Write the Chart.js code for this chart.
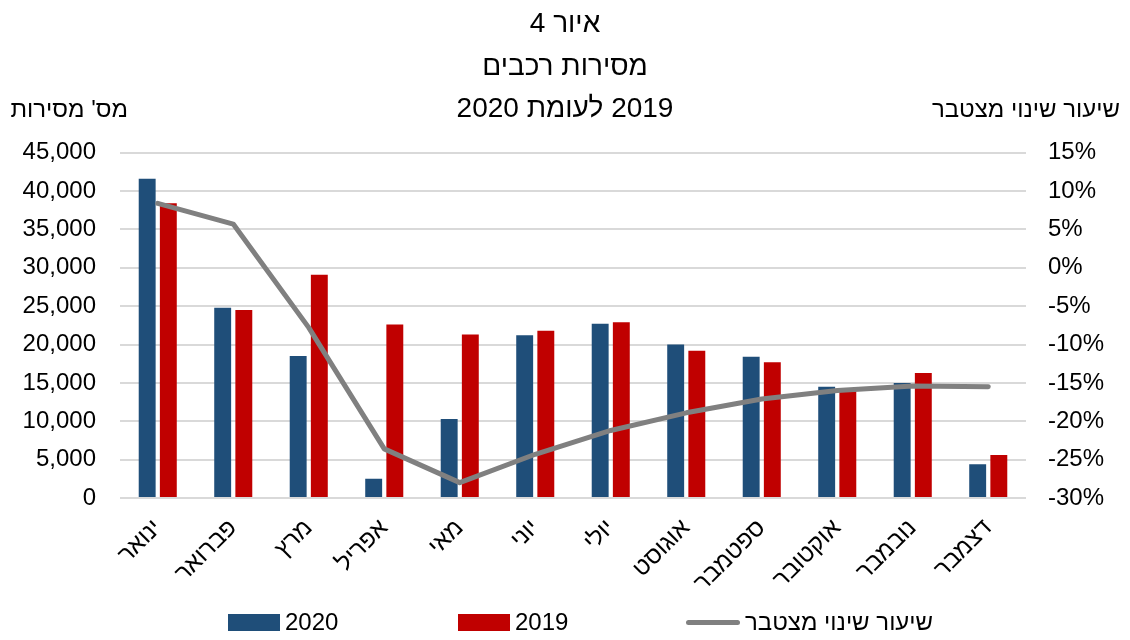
<!DOCTYPE html>
<html lang="he">
<head>
<meta charset="utf-8">
<script src="https://cdn.jsdelivr.net/npm/chart.js@4.4.1/dist/chart.umd.min.js"></script>
<style>
  html, body { margin: 0; padding: 0; background: #fff; }
  #wrap { position: relative; width: 1130px; height: 640px; }
  #legend {
    position: absolute; left: 0; top: 606px; width: 1130px; height: 32px;
    font-family: "Liberation Sans Narrow", "Liberation Sans", sans-serif; font-size: 24px; color: #000;
  }
  .item { position: absolute; top: 0; display: flex; align-items: center; height: 32px; }
  .swatch { width: 52px; height: 17px; margin-right: 5px; }
  .lineSwatch { width: 54px; height: 5px; border-radius: 3px; margin-right: 5px; }
</style>
</head>
<body>
<div id="wrap">
  <canvas id="chart" width="1130" height="640"></canvas>
  <div id="legend"></div>
</div>
<script>
// Chart data
const months = ['ינואר', 'פברואר', 'מרץ', 'אפריל', 'מאי', 'יוני', 'יולי', 'אוגוסט', 'ספטמבר', 'אוקטובר', 'נובמבר', 'דצמבר'];
const deliveries2020 = [41600, 24800, 18500, 2500, 10300, 21200, 22700, 20000, 18400, 14500, 15000, 4400];
const deliveries2019 = [38400, 24500, 29100, 22600, 21300, 21800, 22900, 19200, 17700, 13900, 16300, 5600];
const cumulativeChange = [8.4, 5.7, -7.8, -23.6, -28.0, -24.3, -21.2, -18.9, -17.1, -16.0, -15.4, -15.5];

// the LRM keeps "2019" on the right of the Hebrew word, as in the original
const titleLines = ['איור 4', 'מסירות רכבים', '2020 לעומת\u200E 2019'];
const leftAxisTitle = "מס' מסירות";
const rightAxisTitle = 'שיעור שינוי מצטבר';

const FONT = '"Liberation Sans Narrow", "Liberation Sans", sans-serif';
const BLUE = '#1F4E79';
const RED = '#C00000';
const GREY = '#808080';

// Draws the two horizontal axis captions above the plot
const axisCaptions = {
    id: 'axisCaptions',
    afterDraw(chart) {
        const ctx = chart.ctx;
        const area = chart.chartArea;
        ctx.save();
        ctx.font = '24px ' + FONT;
        ctx.fillStyle = '#000';
        ctx.textBaseline = 'middle';
        ctx.textAlign = 'right';
        ctx.fillText(leftAxisTitle, area.left + 8, 110);
        ctx.fillText(rightAxisTitle, 1120, 110);
        ctx.restore();
    }
};

const ctx = document.getElementById('chart');
const chart = new Chart(ctx, {
    type: 'bar',
    data: {
        labels: months,
        datasets: [
            {
                type: 'line',
                label: 'שיעור שינוי מצטבר',
                data: cumulativeChange,
                yAxisID: 'yRight',
                borderColor: GREY,
                backgroundColor: GREY,
                borderWidth: 5,
                pointRadius: 0,
                tension: 0,
                borderCapStyle: 'round',
                borderJoinStyle: 'round',
                order: 0
            },
            {
                label: '2020',
                data: deliveries2020,
                yAxisID: 'yLeft',
                backgroundColor: BLUE,
                categoryPercentage: 0.56,
                barPercentage: 0.8,
                order: 1
            },
            {
                label: '2019',
                data: deliveries2019,
                yAxisID: 'yLeft',
                backgroundColor: RED,
                categoryPercentage: 0.56,
                barPercentage: 0.8,
                order: 2
            }
        ]
    },
    options: {
        responsive: false,
        animation: false,
        layout: { padding: { left: 0, right: 0, top: 0, bottom: 47 } },
        plugins: {
            legend: { display: false },
            tooltip: { enabled: false },
            title: {
                display: true,
                text: titleLines,
                color: '#000',
                font: { family: FONT, size: 28, weight: 'normal', lineHeight: 1.52 },
                padding: { top: 3, bottom: 22 }
            }
        },
        scales: {
            x: {
                grid: { display: false },
                border: { display: false },
                ticks: {
                    color: '#000',
                    font: { family: FONT, size: 24 },
                    minRotation: 45,
                    maxRotation: 45,
                    padding: 8
                },
                afterFit(scale) { scale.height = 95; }
            },
            yLeft: {
                position: 'left',
                min: 0,
                max: 45000,
                ticks: {
                    stepSize: 5000,
                    color: '#000',
                    font: { family: FONT, size: 24 },
                    padding: 24
                },
                grid: { color: '#d9d9d9', lineWidth: 2, drawTicks: false },
                border: { display: false },
                afterFit(scale) { scale.width = 120; }
            },
            yRight: {
                position: 'right',
                min: -30,
                max: 15,
                ticks: {
                    stepSize: 5,
                    color: '#000',
                    font: { family: FONT, size: 24 },
                    padding: 22,
                    callback: v => v + '%'
                },
                grid: { drawOnChartArea: false, drawTicks: false },
                border: { display: false },
                afterFit(scale) { scale.width = 104; }
            }
        }
    },
    plugins: [axisCaptions]
});

// HTML legend built from the datasets
const legendSlots = { '2020': 228, '2019': 458, 'שיעור שינוי מצטבר': 686 };
const legend = document.getElementById('legend');
['2020', '2019', 'שיעור שינוי מצטבר'].forEach(name => {
    const ds = chart.data.datasets.find(d => d.label === name);
    const item = document.createElement('div');
    item.className = 'item';
    item.style.left = legendSlots[name] + 'px';
    const sw = document.createElement('span');
    sw.className = ds.type === 'line' ? 'lineSwatch' : 'swatch';
    sw.style.background = ds.type === 'line' ? ds.borderColor : ds.backgroundColor;
    const txt = document.createElement('span');
    txt.textContent = name;
    item.appendChild(sw);
    item.appendChild(txt);
    legend.appendChild(item);
});
</script>
</body>
</html>
